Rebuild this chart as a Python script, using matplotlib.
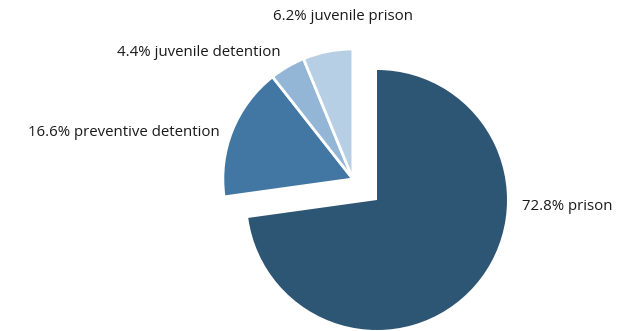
import matplotlib
matplotlib.use("Agg")
import matplotlib.pyplot as plt
from matplotlib.patches import Wedge
import numpy as np

# share of sentenced youth by type of institution
labels = ["prison", "preventive detention", "juvenile detention", "juvenile prison"]
shares = [72.8, 16.6, 4.4, 6.2]
colors = ["#2d5574", "#4277a3", "#93b6d6", "#b7cfe5"]

plt.rcParams["font.family"] = ["Open Sans", "DejaVu Sans"]

fig = plt.figure(figsize=(6.32, 3.31), dpi=100)
ax = fig.add_axes([0, 0, 1, 1])
ax.set_xlim(0, 632)
ax.set_ylim(0, 331)
ax.set_aspect("equal")
ax.axis("off")

center = np.array([377.0, 131.0])
radius = 130.0
shift = 32.0

# slices run clockwise from 12 o'clock
angles = np.array(shares) / sum(shares) * 360.0
ends = 90.0 - np.concatenate([[0], np.cumsum(angles)])

# the smaller slices are pulled out together
rest_mid = np.deg2rad((ends[1] + ends[-1]) / 2)
offset = shift * np.array([np.cos(rest_mid), np.sin(rest_mid)])

for i, (lab, col) in enumerate(zip(labels, colors)):
    c = center if i == 0 else center + offset
    ax.add_patch(Wedge(c, radius, ends[i + 1], ends[i], facecolor=col,
                       edgecolor="white", linewidth=0 if i == 0 else 2))

fs = 10.8
tc = "#1a1a1a"
ax.text(273, 314, f"{shares[3]:.1f}% juvenile prison", ha="left", va="center",
        fontsize=fs, color=tc)
ax.text(281, 278, f"{shares[2]:.1f}% juvenile detention", ha="right", va="center",
        fontsize=fs, color=tc)
ax.text(220, 198, f"{shares[1]:.1f}% preventive detention", ha="right", va="center",
        fontsize=fs, color=tc)
ax.text(522, 125, f"{shares[0]:.1f}% prison", ha="left", va="center",
        fontsize=fs, color=tc)

fig.savefig("out.png", dpi=100)
